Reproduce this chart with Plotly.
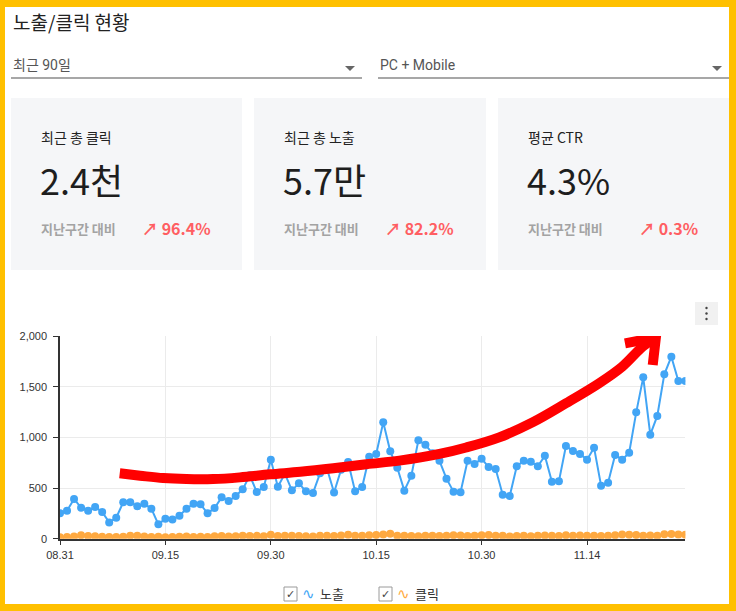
import pandas as pd
import plotly.graph_objects as go

# ---------------- data ----------------
start_date = "2023-08-31"
n_days = 90
impressions = [250, 276, 392, 306, 276, 313, 263, 161, 207, 359,
               359, 319, 345, 296, 142, 197, 190, 227, 296, 345,
               339, 250, 303, 408, 372, 421, 487, 625, 461, 510,
               780, 513, 641, 477, 546, 467, 451, 645, 690, 456,
               680, 757, 467, 510, 809, 836, 1148, 862, 700, 474,
               622, 971, 928, 842, 768, 592, 464, 458, 770, 737,
               790, 707, 688, 434, 421, 714, 770, 760, 714, 819,
               562, 566, 915, 865, 836, 780, 898, 523, 553, 826,
               780, 849, 1247, 1592, 1026, 1211, 1622, 1796, 1556, 1556]
clicks = [14, 18, 22, 34, 26, 24, 20, 18, 16, 20,
          30, 28, 22, 18, 20, 14, 18, 20, 22, 16,
          20, 18, 24, 26, 22, 24, 30, 26, 28, 24,
          38, 26, 28, 30, 26, 24, 22, 28, 30, 26,
          32, 40, 28, 30, 34, 36, 42, 50, 30, 28,
          26, 24, 28, 30, 26, 30, 34, 32, 26, 30,
          34, 36, 30, 28, 22, 26, 28, 24, 30, 32,
          28, 26, 34, 30, 32, 28, 30, 26, 28, 34,
          42, 38, 36, 30, 32, 28, 44, 46, 42, 40]
series_names = ["노출", "클릭"]

# hand-drawn red trend arrow (day offset from start, value)
red_curve_days = [8.5, 11.4, 14.7, 18.0, 21.8, 25.6, 29.9, 34.2, 38.9, 43.6,
                  48.3, 54.0, 57.8, 62.5, 67.3, 72.0, 76.7, 80.0, 82.9, 84.8]
red_curve_vals = [645, 622, 598, 588, 588, 605, 635, 660, 695, 735,
                  770, 836, 900, 1000, 1150, 1336, 1533, 1697, 1894, 1985]
red_head_days = [80.4, 84.8, 84.35]
red_head_vals = [1928, 1985, 1714]

y_ticks = [0, 500, 1000, 1500, 2000]

card_labels = ["최근 총 클릭", "최근 총 노출", "평균 CTR"]
card_values = ["2.4천", "5.7만", "4.3%"]
card_changes = ["96.4%", "82.2%", "0.3%"]
compare_label = "지난구간 대비"

title_text = "노출/클릭 현황"
dropdown_texts = ["최근 90일", "PC + Mobile"]

# ---------------- helpers ----------------
W, H = 736, 611
def px(x):
    return x / W
def py(y):
    return 1 - y / H

KR = "Noto Sans CJK KR"
BLUE = "#42A5F5"
ORANGE = "#FFA940"
YELLOW = "#FFC000"

dates = pd.date_range(start_date, periods=n_days, freq="D")
base = pd.Timestamp(start_date)
red_curve_x = [base + pd.Timedelta(days=d) for d in red_curve_days]
red_head_x = [base + pd.Timedelta(days=d) for d in red_head_days]

fig = go.Figure()
fig.add_trace(go.Scatter(x=dates, y=impressions, name=series_names[0], mode="lines+markers",
                         line=dict(color=BLUE, width=2), marker=dict(color=BLUE, size=8),
                         showlegend=False))
fig.add_trace(go.Scatter(x=dates, y=clicks, name=series_names[1], mode="lines+markers",
                         line=dict(color=ORANGE, width=2), marker=dict(color=ORANGE, size=8),
                         showlegend=False))
fig.add_trace(go.Scatter(x=red_curve_x, y=red_curve_vals, mode="lines", line_shape="spline",
                         line=dict(color="#FF0000", width=10), showlegend=False, hoverinfo="skip"))
fig.add_trace(go.Scatter(x=red_head_x, y=red_head_vals, mode="lines",
                         line=dict(color="#FF0000", width=10), showlegend=False, hoverinfo="skip"))

shapes = []
annotations = []

def rect(x0, y0, x1, y1, fill, line=None, layer="below"):
    shapes.append(dict(type="rect", xref="paper", yref="paper",
                       x0=px(x0), x1=px(x1), y0=py(y1), y1=py(y0),
                       fillcolor=fill, line=dict(width=0) if line is None else line, layer=layer))

def text(x, y, s, size, color, xanchor="left", family=KR):
    annotations.append(dict(xref="paper", yref="paper", x=px(x), y=py(y), text=s,
                            showarrow=False, xanchor=xanchor, yanchor="middle",
                            font=dict(size=size, color=color, family=family)))

# yellow frame
rect(0, 0, W, 7, YELLOW, layer="above")
rect(0, 604, W, H, YELLOW, layer="above")
rect(0, 0, 5, H, YELLOW, layer="above")
rect(729, 0, W, H, YELLOW, layer="above")

# title
text(11, 22, title_text, 19, "#222")

# dropdowns
dd = [(11, 362), (378, 729)]
for (x0, x1), s in zip(dd, dropdown_texts):
    text(x0, 65, s, 14, "#555", family="Roboto, " + KR)
    shapes.append(dict(type="line", xref="paper", yref="paper", x0=px(x0), x1=px(x1),
                       y0=py(78), y1=py(78), line=dict(color="#8A8A8A", width=1.5)))
    ax = x1 - 12 if x1 < 700 else 717
    shapes.append(dict(type="path", xref="paper", yref="paper",
                       path=f"M {px(ax-5)} {py(66)} L {px(ax+5)} {py(66)} L {px(ax)} {py(71)} Z",
                       fillcolor="#666", line=dict(width=0)))

# cards
card_x = [11, 254, 498]
card_w = [231, 232, 231]
for i in range(3):
    cx = card_x[i]
    rect(cx, 98, cx + card_w[i], 270, "#F5F6F8")
    text(cx + 28, 137, card_labels[i], 14, "#222")
    text(cx + 27, 179, card_values[i], 36, "#1E1E1E")
    text(cx + 28, 228, "<b>" + compare_label + "</b>", 13, "#A3A3A3")
    text(cx + 202, 228, "<b>↗ " + card_changes[i] + "</b>", 16, "#FF5E62", xanchor="right")

# kebab menu button
rect(695, 302, 718, 325, "#F1F1F1", layer="above")
for yy in (308, 313.5, 319):
    shapes.append(dict(type="circle", xref="paper", yref="paper",
                       x0=px(705.3), x1=px(707.7), y0=py(yy + 1.2), y1=py(yy - 1.2),
                       fillcolor="#444", line=dict(width=0)))

# custom legend
leg = [(284, BLUE, series_names[0]), (379, ORANGE, series_names[1])]
for lx, col, name in leg:
    rect(lx, 587, lx + 13, 601, "#FFFFFF", line=dict(color="#9A9A9A", width=1), layer="above")
    text(lx + 6.5, 594, "✓", 11, "#444", xanchor="center", family="DejaVu Sans")
    text(lx + 24, 594, "∿", 15, col, xanchor="center", family="DejaVu Sans")
    text(lx + 34, 593, name, 13, "#333")

fig.update_layout(
    width=W, height=H, margin=dict(l=0, r=0, t=0, b=0, autoexpand=False),
    paper_bgcolor="white", plot_bgcolor="rgba(0,0,0,0)",
    font=dict(family=KR, color="#333"),
    shapes=shapes, annotations=annotations,
    xaxis=dict(domain=[px(60), px(685.4)], type="date", automargin=False,
               range=[dates[0], dates[-1]],
               tick0=start_date, dtick=15 * 86400000, tickformat="%m.%d",
               showgrid=True, gridcolor="#EBEBEB", gridwidth=1,
               showline=True, linecolor="#333", linewidth=1.5,
               ticks="outside", ticklen=5, tickcolor="#333",
               tickfont=dict(family="Liberation Sans", size=11, color="#333"),
               zeroline=False, fixedrange=True),
    yaxis=dict(domain=[py(538.7), py(336)], range=[0, 2000], automargin=False,
               tickvals=y_ticks, tickformat=",",
               showgrid=True, gridcolor="#EBEBEB", gridwidth=1,
               showline=True, linecolor="#333", linewidth=1.5,
               ticks="outside", ticklen=5, tickcolor="#333",
               tickfont=dict(family="Liberation Sans", size=11, color="#333"),
               ticklabelstandoff=4,
               zeroline=False, fixedrange=True),
)

post = (
    "document.documentElement.style.margin='0';"
    "document.documentElement.style.overflow='hidden';"
    "document.body.style.margin='0';"
    "document.body.style.overflow='hidden';"
)
fig.write_html("out.html", config={"displayModeBar": False}, post_script=post)
